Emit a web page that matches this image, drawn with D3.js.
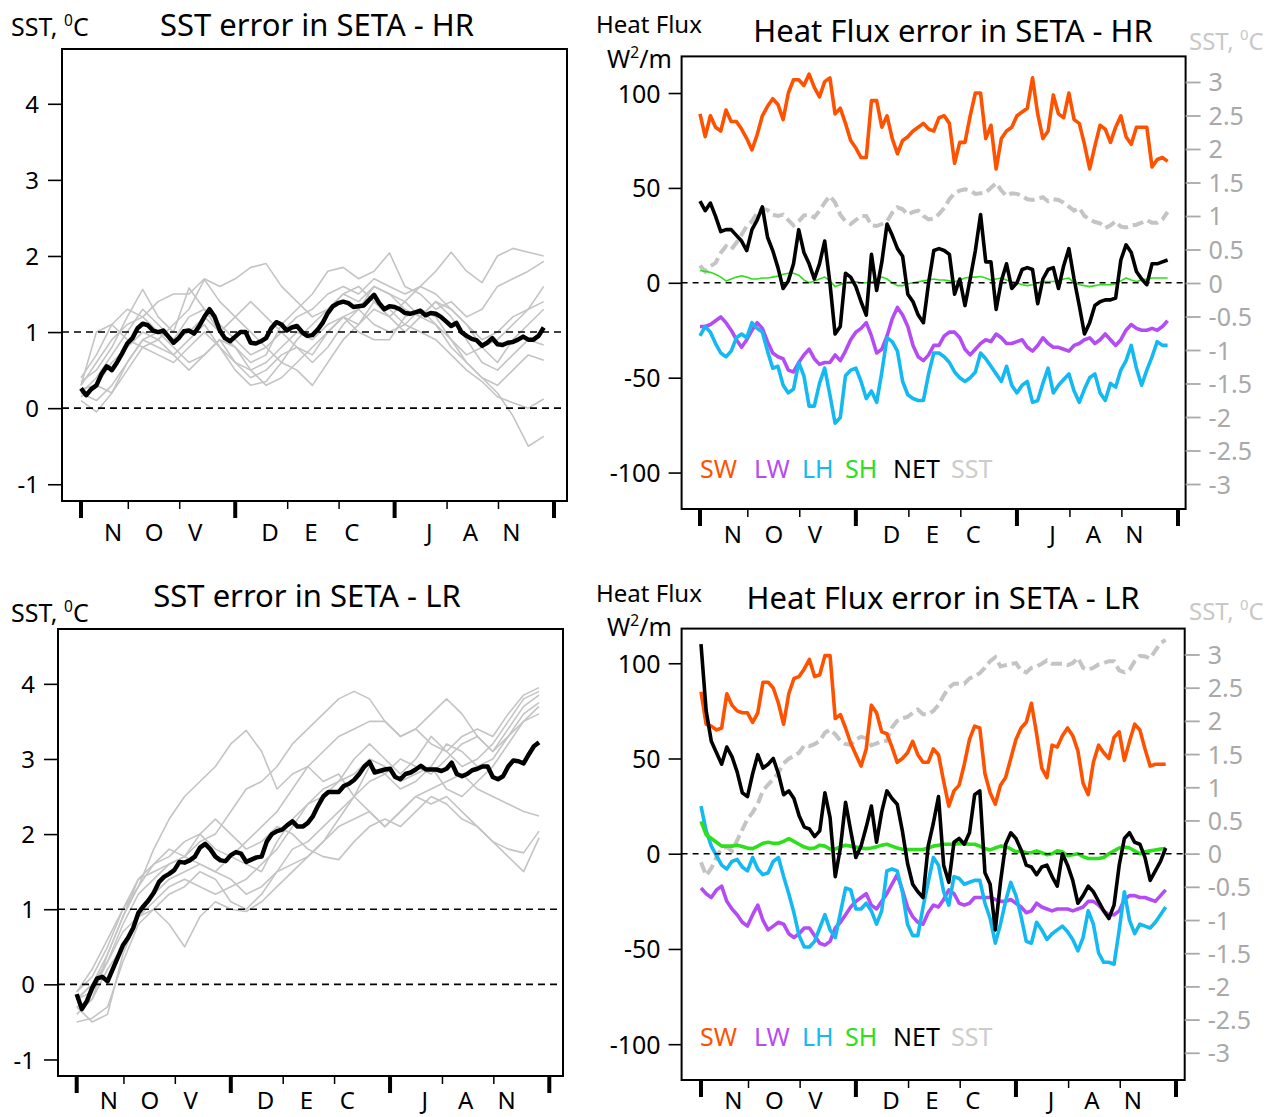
<!DOCTYPE html>
<html>
<head>
<meta charset="utf-8">
<script src="https://cdn.jsdelivr.net/npm/d3@7"></script>
<style>
  html, body { margin: 0; padding: 0; background: #fff; }
  svg { display: block; font-family: "Noto Sans", "Open Sans", sans-serif; }
</style>
</head>
<body>
<svg id="fig" width="1281" height="1117"></svg>
<script>
// ---------------- data ----------------
// x axis: day offset from 1 November; months end at day 30, 61, 92
const monthLetters = [["N", "O", "V"], ["D", "E", "C"], ["J", "A", "N"]];
const monthStarts = [0, 30, 61, 92];
const minorTicks = [9.2, 19.2, 40.2, 50.2, 71.2, 81.2];
const sstTicks = [-1, 0, 1, 2, 3, 4];
const sstRefLines = [0, 1];
const fluxTicks = [-100, -50, 0, 50, 100];
const sstRightTicks = [3, 2.5, 2, 1.5, 1, 0.5, 0, -0.5, -1, -1.5, -2, -2.5, -3];
const legendNames = ["SW", "LW", "LH", "SH", "NET", "SST"];
const memberStep = 3; // ensemble members are stored every 3 days

// ensemble-mean SST error, daily (deg C)
const sstMeanHR = [
  0.26,0.17,0.25,0.30,0.45,0.55,0.50,0.60,0.72,0.85,
  0.92,1.05,1.11,1.09,1.02,1.00,1.02,0.94,0.86,0.92,
  1.01,1.02,0.98,1.08,1.20,1.30,1.20,1.02,0.92,0.88,
  0.94,1.00,1.00,0.86,0.85,0.88,0.92,1.05,1.13,1.10,
  1.02,1.06,1.08,1.00,0.95,0.96,1.03,1.12,1.25,1.34,
  1.38,1.40,1.38,1.33,1.34,1.35,1.42,1.49,1.38,1.30,
  1.34,1.33,1.30,1.25,1.24,1.26,1.28,1.22,1.25,1.24,
  1.20,1.14,1.08,1.12,1.00,0.95,0.91,0.89,0.82,0.86,
  0.92,0.84,0.83,0.86,0.87,0.90,0.94,0.90,0.90,0.95,
  1.06];

const sstMeanLR = [
  -0.13,-0.33,-0.22,-0.05,0.08,0.10,0.04,0.20,0.36,0.52,
  0.62,0.75,0.95,1.04,1.12,1.22,1.36,1.43,1.47,1.52,
  1.63,1.62,1.65,1.70,1.82,1.87,1.80,1.70,1.65,1.64,
  1.72,1.76,1.74,1.63,1.66,1.69,1.70,1.90,2.00,2.04,
  2.06,2.12,2.17,2.10,2.10,2.15,2.24,2.38,2.50,2.56,
  2.56,2.56,2.64,2.67,2.72,2.80,2.90,2.96,2.82,2.84,
  2.86,2.87,2.76,2.73,2.80,2.82,2.86,2.91,2.86,2.86,
  2.86,2.84,2.87,2.95,2.80,2.77,2.80,2.85,2.87,2.90,
  2.90,2.76,2.73,2.77,2.90,2.98,2.97,2.94,3.06,3.17,
  3.22];

// individual ensemble members (every 3 days)
const sstMembersHR = [
  [0.30,0.60,0.90,1.10,1.20,1.00,0.90,1.20,1.30,1.10,0.90,0.70,0.80,1.00,1.20,1.30,1.50,1.60,1.50,1.70,1.60,1.50,1.60,1.80,2.05,1.80,1.65,2.00,2.10,2.05,2.00],
  [0.20,0.40,0.70,1.00,1.30,1.10,0.90,1.00,1.20,1.00,0.80,0.60,0.70,1.10,1.30,1.50,1.80,1.85,1.70,1.80,2.04,1.60,1.50,1.30,1.40,1.20,1.30,1.60,1.70,1.80,1.93],
  [0.35,0.50,0.80,1.20,1.56,1.20,1.00,1.58,1.30,1.00,1.20,1.40,1.20,1.00,0.80,0.70,1.00,1.20,1.30,1.60,1.50,1.40,1.20,1.10,0.90,0.70,0.80,0.90,1.10,1.30,1.60],
  [0.40,0.70,1.10,1.30,1.20,1.40,1.50,1.50,1.70,1.60,1.70,1.85,1.90,1.60,1.40,1.20,1.30,1.50,1.40,1.60,1.50,1.30,1.20,1.40,1.30,1.10,0.90,1.00,1.20,1.30,1.40],
  [0.15,0.30,0.60,0.80,1.00,0.90,1.10,1.30,1.69,1.40,1.20,1.00,0.80,0.60,0.90,1.10,1.30,1.50,1.60,1.40,1.20,1.40,1.60,1.50,1.30,1.10,0.80,0.60,0.90,1.10,1.30],
  [0.30,1.00,1.10,0.90,0.80,0.70,0.60,0.80,1.00,0.80,0.50,0.30,0.35,0.60,0.50,0.30,0.60,0.90,1.10,1.30,1.20,1.00,1.20,1.40,1.20,0.90,0.60,0.50,0.70,0.90,0.83],
  [0.10,-0.05,0.20,0.50,0.80,0.90,0.70,0.50,0.70,0.90,0.60,0.40,0.50,0.70,0.80,0.60,0.80,1.10,1.30,1.10,1.00,1.10,1.30,1.20,0.90,0.60,0.40,0.30,0.50,0.70,0.63],
  [0.20,0.10,0.30,0.60,0.90,1.00,0.80,0.60,0.70,0.90,0.80,0.50,0.30,0.40,0.60,0.80,1.00,1.20,1.10,1.40,1.30,1.10,1.00,0.90,0.70,0.50,0.35,0.15,0.07,0.00,0.12],
  [0.25,0.30,0.20,0.60,0.90,0.80,0.70,0.90,1.10,0.80,0.60,0.50,0.60,0.80,1.00,0.90,1.10,1.20,1.00,0.90,0.90,1.20,1.30,1.10,0.80,0.60,0.40,0.20,-0.10,-0.50,-0.37]
];

const sstMembersLR = [
  [-0.10,0.10,0.50,1.00,1.30,1.80,2.20,2.50,2.70,2.90,3.20,3.38,3.10,2.60,2.80,2.90,2.70,2.80,2.50,2.30,2.10,2.30,2.50,2.60,2.70,2.80,2.60,2.50,2.40,2.30,2.24],
  [-0.30,-0.20,0.40,0.90,1.40,1.50,1.60,1.70,1.90,2.00,2.30,2.60,2.70,2.90,3.20,3.40,3.60,3.80,3.90,3.80,3.50,3.30,3.40,3.20,3.10,3.30,3.40,3.30,3.60,3.85,3.95],
  [-0.20,-0.10,0.30,0.80,1.20,1.40,1.60,1.70,1.60,1.50,1.70,1.90,2.10,2.30,2.60,2.90,3.10,3.30,3.40,3.50,3.50,3.30,3.40,3.60,3.80,3.60,3.30,3.10,3.40,3.70,3.85],
  [-0.20,0.00,0.30,0.70,0.90,1.00,0.80,0.50,0.90,1.10,1.00,0.97,1.10,1.30,1.50,1.70,1.90,2.20,2.50,2.70,2.80,3.00,2.90,2.80,3.00,3.20,3.30,3.10,3.30,3.60,3.75],
  [-0.30,-0.50,-0.40,0.40,0.90,1.20,1.40,1.50,1.60,1.50,1.40,1.20,1.30,1.50,1.60,1.70,1.90,2.10,2.20,2.30,2.10,2.30,2.50,2.40,2.50,2.30,2.10,1.90,1.80,1.75,2.04],
  [-0.20,0.00,0.40,0.90,1.30,1.60,1.80,1.70,2.00,2.20,2.00,1.80,1.90,2.10,2.00,1.80,1.70,1.66,1.90,2.10,2.20,2.10,2.30,2.50,2.40,2.20,2.10,1.90,1.70,1.50,1.95],
  [-0.10,0.20,0.60,1.00,1.40,1.60,1.70,1.90,2.00,1.80,1.70,1.60,1.50,1.90,2.20,2.40,2.60,2.70,2.80,3.00,2.90,2.70,2.80,2.90,3.20,3.10,2.90,3.00,3.30,3.50,3.70],
  [-0.40,-0.20,0.20,0.50,0.90,1.10,1.30,1.40,1.30,1.20,1.30,1.40,1.60,1.80,2.10,2.40,2.50,2.70,3.00,3.20,3.00,2.80,3.00,3.30,3.10,2.90,3.00,3.20,3.50,3.80,3.90],
  [-0.50,-0.45,-0.30,0.30,0.80,1.00,1.20,1.30,1.50,1.40,1.10,1.00,1.20,1.50,1.80,1.90,2.10,2.30,2.50,2.90,2.80,2.60,2.70,2.90,2.60,2.50,2.70,2.90,3.20,3.50,3.60]
];

// heat flux errors, daily (W/m2)
const swHR = [
  89,77,88,82,80,91,85,85,81,76,
  70,78,88,93,97,94,86,100,107,107,
  104,110,103,98,106,108,89,92,84,75,
  71,66,66,96,96,82,88,76,68,75,
  77,80,82,84,81,80,87,88,84,63,
  74,74,88,100,100,76,83,60,76,80,
  82,88,90,92,108,89,76,80,99,89,
  87,100,86,84,73,60,72,83,81,74,
  82,88,77,73,82,82,82,61,65,66,
  64];
const lwHR = [
  -23,-23,-22,-20,-18,-21,-25,-30,-34,-30,
  -25,-21,-24,-31,-37,-39,-40,-46,-47,-42,
  -38,-35,-40,-43,-42,-42,-38,-41,-36,-30,
  -26,-24,-21,-28,-37,-35,-28,-19,-13,-17,
  -23,-33,-39,-41,-38,-33,-33,-28,-26,-26,
  -29,-35,-38,-35,-32,-30,-31,-27,-29,-32,
  -32,-31,-30,-34,-36,-33,-29,-32,-34,-34,
  -35,-36,-33,-32,-30,-29,-32,-30,-27,-30,
  -33,-30,-25,-22,-24,-25,-25,-24,-25,-23,
  -20];
const lhHR = [
  -28,-23,-26,-32,-37,-39,-36,-29,-27,-29,
  -21,-24,-26,-36,-45,-44,-54,-58,-56,-42,
  -49,-65,-65,-53,-45,-59,-74,-71,-49,-46,
  -45,-52,-61,-57,-63,-47,-29,-31,-36,-52,
  -59,-61,-62,-62,-48,-37,-37,-39,-42,-47,
  -50,-52,-50,-47,-37,-40,-44,-48,-52,-44,
  -54,-58,-54,-52,-63,-62,-53,-45,-58,-54,
  -51,-48,-57,-63,-56,-50,-48,-58,-62,-53,
  -55,-46,-41,-33,-45,-54,-46,-39,-31,-33,
  -33];
const shHR = [
  6.5,6,5.5,4.5,3,1,2,3,3.7,3,
  2,2,2.5,2.5,3,3.5,4.5,5,5,4,
  1.5,0,1,2,3,1,-2,-1,0,0.5,
  0.5,0,0,0.5,1.5,3,2,0,-1.5,-1.5,
  -0.5,0,0.5,1,1.5,2,1.5,1.5,1,0.5,
  1.5,2.5,3,3,3.3,2.5,1.5,2,2.5,1.5,
  0.7,0,-1,-1.5,-1,0,0.7,0.7,0.7,1,
  2,2.5,0,-1,-1.5,-2,-1.5,-1,-1,-1,
  -0.5,1,2.5,1.5,0.7,1.5,2,2.5,2.5,2.5,
  2.5];
const netHR = [
  43,38,42,35,27,28,28,25,22,17,
  28,33,40,24,17,8,-3,1,10,28,
  16,10,2,10,22,0,-27,-23,5,3,
  -2,-10,-17,15,-4,11,31,25,18,14,
  -6,-10,-17,-21,0,17,18,17,15,-6,
  2,-12,2,17,36,11,11,-14,1,10,
  -3,0,7,8,7,-11,2,7,8,-3,
  9,18,2,-12,-27,-21,-12,-10,-9,-9,
  -8,12,20,16,6,2,-1,10,10,11,
  12];

const swLR = [
  85,68,67,65,66,84,78,75,74,74,
  69,74,90,90,87,79,68,84,92,93,
  97,102,93,94,104,104,71,73,66,58,
  52,46,55,78,74,64,63,56,48,50,
  53,59,52,48,48,55,52,38,25,33,
  36,47,60,67,66,42,32,26,36,40,
  50,60,66,69,79,63,45,40,57,56,
  62,66,62,54,37,31,48,57,53,50,
  61,64,49,59,68,65,55,46,47,47,
  47];
const lwLR = [
  -18,-21,-23,-19,-17,-25,-29,-32,-36,-38,
  -32,-27,-35,-40,-38,-36,-37,-42,-44,-42,
  -39,-39,-43,-47,-48,-46,-39,-36,-32,-28,
  -25,-23,-21,-27,-29,-25,-21,-16,-11,-19,
  -28,-33,-36,-37,-31,-27,-28,-24,-19,-21,
  -26,-27,-26,-23,-23,-23,-23,-24,-25,-25,
  -24,-26,-28,-31,-30,-26,-28,-29,-30,-29,
  -29,-29,-30,-29,-28,-25,-25,-27,-30,-32,
  -32,-30,-24,-22,-22,-23,-23,-24,-25,-22,
  -19];
const lhLR = [
  25,12,4,-1,-6,-8,-4,-3,-7,-9,
  -2,-8,-11,-10,-4,-2,-12,-21,-31,-43,
  -49,-49,-46,-39,-32,-40,-44,-31,-18,-19,
  -29,-29,-26,-30,-37,-30,-9,-8,-9,-20,
  -37,-43,-43,-28,-15,-2,-6,-20,-27,-12,
  -13,-16,-15,-14,-14,-26,-34,-47,-37,-25,
  -15,-22,-33,-46,-47,-36,-40,-45,-42,-40,
  -38,-41,-45,-51,-44,-30,-37,-52,-57,-57,
  -58,-40,-20,-35,-42,-37,-38,-39,-36,-32,
  -28];
const shLR = [
  17,10,8,6,4,4,4,4.5,3.8,3,
  2.7,4,5.5,6,5.5,5.5,6.5,8,6.5,5,
  3.5,2.7,3,4.5,4,2.5,2.5,3.5,4.5,4,
  3.5,3,2.7,3,3.6,4.5,5,4,3,2.3,
  2.2,2.2,2.2,2.2,3,4,4.5,5,5,5,
  5.3,5.3,5,5,4,2.7,2,3,4,3.7,
  2.5,1,1.5,0.5,0.5,1.5,0.5,-0.5,0,1.5,
  1,-1,-0.5,0,-1.5,-2.5,-2.5,-2.5,-2,0,
  1.5,3,3.5,3,1.5,0,1,1.5,2,2.5,
  2.7];
const netLR = [
  110,75,59,53,47,56,51,43,32,30,
  42,52,45,47,50,42,31,33,29,20,
  14,13,9,12,32,19,-12,3,27,12,
  -2,4,14,25,6,22,33,29,26,12,
  -5,-16,-20,-23,4,16,30,-6,-15,6,
  8,5,11,31,33,-10,-16,-40,-15,5,
  11,8,2,-6,-7,-11,-7,-6,-12,-17,
  0,-6,-14,-26,-22,-17,-20,-25,-30,-34,
  -27,-6,8,11,6,5,-2,-14,-9,-4,
  3];

// ---------------- styling ----------------
const COL = {
  SW: "#ff5200", LW: "#b44cf5", LH: "#14b9f2", SH: "#2ee01c",
  NET: "#000000", SST: "#c4c4c4"
};
const member = "#c4c4c4";
const rightAxisGrey = "#a9a9a9";
const letterOffsets = [-45, -4, 37];

// ---------------- layout ----------------
const panels = {
  sstHR: { box: { x0: 62, x1: 567, y0: 49, y1: 501 }, xRange: [81, 554], yDomain: [-1.22, 4.72],
           title: "SST error in SETA - HR", titleX: 317, titleY: 36, unitX: 11, unitY: 36, monthY: 541 },
  sstLR: { box: { x0: 58, x1: 563, y0: 629, y1: 1076 }, xRange: [76.7, 549.3], yDomain: [-1.22, 4.73],
           title: "SST error in SETA - LR", titleX: 307, titleY: 607, unitX: 11, unitY: 622, monthY: 1109 },
  fluxHR: { box: { x0: 681.6, x1: 1185.6, y0: 56.4, y1: 509 }, xRange: [700, 1178],
            yDomain: [-119.2, 119.3], y2Domain: [-3.373, 3.382],
            title: "Heat Flux error in SETA - HR", titleX: 953, titleY: 42,
            hfY: 33, wY: 68, sstLabY: 50, legendY: 477.5, monthY: 543 },
  fluxLR: { box: { x0: 681.6, x1: 1184.7, y0: 628.6, y1: 1080 }, xRange: [701, 1176],
            yDomain: [-118.8, 118.2], y2Domain: [-3.41, 3.39],
            title: "Heat Flux error in SETA - LR", titleX: 943, titleY: 609,
            hfY: 602, wY: 636, sstLabY: 620, legendY: 1046, monthY: 1109 }
};
const legendX = [700, 754, 802, 845, 893, 951];

const svg = d3.select("#fig");

function supLabel(g, x, y, parts, size, fill) {
  const t = g.append("text").attr("x", x).attr("y", y)
    .attr("font-size", size).attr("fill", fill);
  parts.forEach(p => {
    const ts = t.append("tspan").text(p.text);
    if (p.sup) ts.attr("font-size", size * 0.62).attr("dy", -size * 0.4);
    if (p.down) ts.attr("dy", size * 0.4);
  });
  return t;
}

function monthAxis(g, cfg, x) {
  const yb = cfg.box.y1;
  g.selectAll(".major").data(monthStarts).join("line")
    .attr("x1", d => x(d)).attr("x2", d => x(d))
    .attr("y1", yb - 1).attr("y2", yb + 17)
    .attr("stroke", "#000").attr("stroke-width", 4);
  g.selectAll(".minor").data(minorTicks).join("line")
    .attr("x1", d => x(d)).attr("x2", d => x(d))
    .attr("y1", yb).attr("y2", yb + 8)
    .attr("stroke", "#000").attr("stroke-width", 1.5);
  monthLetters.forEach((letters, i) => {
    const c = (x(monthStarts[i]) + x(monthStarts[i + 1])) / 2;
    letters.forEach((ch, j) => {
      g.append("text").attr("x", c + letterOffsets[j]).attr("y", cfg.monthY)
        .attr("text-anchor", "middle").attr("font-size", 24).attr("fill", "#000").text(ch);
    });
  });
}

function leftAxis(g, cfg, y, ticks, size, pad, fontSize) {
  const ax = g.append("g").attr("transform", `translate(${cfg.box.x0},0)`)
    .call(d3.axisLeft(y).tickValues(ticks).tickSize(size).tickPadding(pad).tickFormat(d => String(d)));
  ax.select(".domain").remove();
  ax.attr("font-family", null).attr("font-size", null);
  ax.selectAll("line").attr("stroke", "#000").attr("stroke-width", 1.6);
  ax.selectAll("text").attr("font-size", fontSize).attr("fill", "#000").attr("dy", "0.36em");
}

function frame(g, cfg) {
  const b = cfg.box;
  g.append("rect").attr("x", b.x0).attr("y", b.y0)
    .attr("width", b.x1 - b.x0).attr("height", b.y1 - b.y0)
    .attr("fill", "none").attr("stroke", "#000").attr("stroke-width", 2);
}

// ---------- SST error panels ----------
function drawSstPanel(cfg, mean, members) {
  const g = svg.append("g");
  const x = d3.scaleLinear().domain([0, 92]).range(cfg.xRange);
  const y = d3.scaleLinear().domain(cfg.yDomain).range([cfg.box.y1, cfg.box.y0]);

  const memberLine = d3.line().x((d, i) => x(i * memberStep)).y(d => y(d));
  g.selectAll(".member").data(members).join("path")
    .attr("d", memberLine).attr("fill", "none")
    .attr("stroke", member).attr("stroke-width", 1.6).attr("stroke-linejoin", "round");

  g.selectAll(".ref").data(sstRefLines).join("line")
    .attr("x1", cfg.box.x0).attr("x2", cfg.box.x1)
    .attr("y1", d => y(d)).attr("y2", d => y(d))
    .attr("stroke", "#000").attr("stroke-width", 1.6).attr("stroke-dasharray", "7,5");

  const meanLine = d3.line().x((d, i) => x(i)).y(d => y(d));
  g.append("path").datum(mean).attr("d", meanLine).attr("fill", "none")
    .attr("stroke", "#000").attr("stroke-width", 4.5).attr("stroke-linejoin", "round");

  frame(g, cfg);
  leftAxis(g, cfg, y, sstTicks, 14, 9, 24);
  monthAxis(g, cfg, x);

  g.append("text").attr("x", cfg.titleX).attr("y", cfg.titleY).attr("text-anchor", "middle")
    .attr("font-size", 31).attr("fill", "#000").text(cfg.title);
  supLabel(g, cfg.unitX, cfg.unitY, [{ text: "SST, " }, { text: "0", sup: true }, { text: "C", down: true }], 25, "#000");
}

// ---------- heat flux panels ----------
function drawFluxPanel(cfg, series, sst, shWidth) {
  const g = svg.append("g");
  const x = d3.scaleLinear().domain([0, 92]).range(cfg.xRange);
  const y = d3.scaleLinear().domain(cfg.yDomain).range([cfg.box.y1, cfg.box.y0]);
  const y2 = d3.scaleLinear().domain(cfg.y2Domain).range([cfg.box.y1, cfg.box.y0]);

  // SST error on the right-hand axis
  g.append("path").datum(sst)
    .attr("d", d3.line().x((d, i) => x(i)).y(d => y2(d)))
    .attr("fill", "none").attr("stroke", COL.SST).attr("stroke-width", 4)
    .attr("stroke-dasharray", "11,5");

  const fluxLine = d3.line().x((d, i) => x(i)).y(d => y(d));
  ["SW", "LW", "LH", "SH"].forEach(k => {
    g.append("path").datum(series[k]).attr("d", fluxLine).attr("fill", "none")
      .attr("stroke", COL[k]).attr("stroke-width", k === "SH" ? shWidth : 3.6)
      .attr("stroke-linejoin", "round");
  });

  g.append("line").attr("x1", cfg.box.x0).attr("x2", cfg.box.x1)
    .attr("y1", y(0)).attr("y2", y(0))
    .attr("stroke", "#000").attr("stroke-width", 1.5).attr("stroke-dasharray", "6,5");

  g.append("path").datum(series.NET).attr("d", fluxLine).attr("fill", "none")
    .attr("stroke", COL.NET).attr("stroke-width", 3.6).attr("stroke-linejoin", "round");

  frame(g, cfg);
  leftAxis(g, cfg, y, fluxTicks, 13, 8, 25);

  const ax2 = g.append("g").attr("transform", `translate(${cfg.box.x1},0)`)
    .call(d3.axisRight(y2).tickValues(sstRightTicks).tickSize(15).tickPadding(8).tickFormat(d => String(d)));
  ax2.select(".domain").remove();
  ax2.attr("font-family", null).attr("font-size", null);
  ax2.selectAll("line").attr("stroke", rightAxisGrey).attr("stroke-width", 1.8);
  ax2.selectAll("text").attr("font-size", 25).attr("fill", rightAxisGrey).attr("dy", "0.36em");

  monthAxis(g, cfg, x);

  g.append("text").attr("x", cfg.titleX).attr("y", cfg.titleY).attr("text-anchor", "middle")
    .attr("font-size", 31).attr("fill", "#000").text(cfg.title);
  g.append("text").attr("x", 596).attr("y", cfg.hfY).attr("font-size", 24)
    .attr("fill", "#000").text("Heat Flux");
  supLabel(g, 607, cfg.wY, [{ text: "W" }, { text: "2", sup: true }, { text: "/m", down: true }], 25, "#000");
  supLabel(g, 1189, cfg.sstLabY, [{ text: "SST, " }, { text: "0", sup: true }, { text: "C", down: true }], 24, "#c8c8c8");

  legendNames.forEach((name, i) => {
    g.append("text").attr("x", legendX[i]).attr("y", cfg.legendY)
      .attr("font-size", 25).attr("fill", name === "SST" ? "#cccccc" : COL[name]).text(name);
  });
}

drawSstPanel(panels.sstHR, sstMeanHR, sstMembersHR);
drawSstPanel(panels.sstLR, sstMeanLR, sstMembersLR);
drawFluxPanel(panels.fluxHR, { SW: swHR, LW: lwHR, LH: lhHR, SH: shHR, NET: netHR }, sstMeanHR, 1.6);
drawFluxPanel(panels.fluxLR, { SW: swLR, LW: lwLR, LH: lhLR, SH: shLR, NET: netLR }, sstMeanLR, 3.6);
</script>
</body>
</html>
